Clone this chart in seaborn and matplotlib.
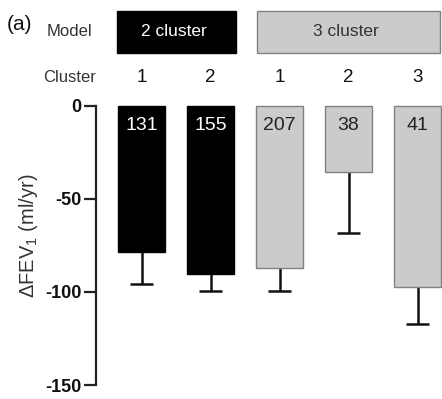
import numpy as np
import pandas as pd
import matplotlib
matplotlib.use("Agg")
import matplotlib.pyplot as plt
import matplotlib.transforms as mtransforms
from matplotlib.patches import Rectangle
import seaborn as sns

# Decline in FEV1 per cluster, for the 2- and 3-cluster models
models = ["2 cluster", "2 cluster", "3 cluster", "3 cluster", "3 cluster"]
clusters = ["1", "2", "1", "2", "3"]
n_subjects = [131, 155, 207, 38, 41]
mean_decline = [-78.8, -90.5, -86.9, -35.8, -97.3]
sem_decline = [17.1, 8.8, 12.4, 32.8, 20.2]
y_ticks = [0, -50, -100, -150]

sns.set_theme(style="white")
plt.rcParams["font.family"] = ["Liberation Sans", "DejaVu Sans"]
plt.rcParams["mathtext.fontset"] = "custom"
plt.rcParams["mathtext.rm"] = "Liberation Sans"
plt.rcParams["mathtext.it"] = "Liberation Sans:italic"

df = pd.DataFrame({
    "group": [f"{m} / {c}" for m, c in zip(models, clusters)],
    "model": models,
    "mean": mean_decline,
})

W, H = 442, 399
fig = plt.figure(figsize=(W / 100, H / 100), dpi=100)
ax = fig.add_axes([95.7 / W, 1 - 385 / H, (W - 95.7) / W, (385 - 105.7) / H])

palette = {"2 cluster": "#000000", "3 cluster": "#cbcbcb"}
sns.barplot(data=df, x="group", y="mean", hue="model", palette=palette,
            dodge=False, width=0.67, errorbar=None, legend=False, ax=ax)
for patch in ax.patches:
    fc = patch.get_facecolor()
    patch.set_edgecolor("#000000" if fc[0] < 0.5 else "#808080")
    patch.set_linewidth(1.0)
    patch.set_clip_on(False)
    patch.set_zorder(2)

# one-sided (downward) SEM bars
xpos = np.arange(len(mean_decline))
lows = np.array(mean_decline) - np.array(sem_decline)
ax.vlines(xpos, lows, mean_decline, color="#111111", lw=1.8, zorder=1, clip_on=False)
ax.hlines(lows, xpos - 0.165, xpos + 0.165, color="#111111", lw=1.8, zorder=1, clip_on=False)

for i, (n, m) in enumerate(zip(n_subjects, models)):
    ax.text(i, -10.4, str(n), ha="center", va="center", fontsize=14, zorder=3,
            color="white" if m == "2 cluster" else "#222222")

ax.set_xlim(-0.664, 4.355)
ax.set_ylim(-150, 0)
ax.set_xticks([])
ax.set_xlabel("")
ax.set_yticks(y_ticks, labels=[str(t) for t in y_ticks])
for lbl in ax.get_yticklabels():
    lbl.set_fontweight("bold")
ax.tick_params(axis="y", left=True, length=8.5, width=1.6, pad=1.5,
               labelsize=13, color="#222222", labelcolor="#111111")
for side in ["top", "right", "bottom"]:
    ax.spines[side].set_visible(False)
ax.spines["left"].set_linewidth(1.6)
ax.spines["left"].set_color("#222222")

ax.set_ylabel("ΔFEV$_{\\rm 1}$ (ml/yr)", fontsize=14.5, color="#333333", va="center")
ax.yaxis.set_label_coords(-0.195, 0.535)

# header: model boxes and cluster numbers
trans = mtransforms.blended_transform_factory(ax.transData, fig.transFigure)
y0, y1 = 1 - 53 / H, 1 - 11 / H
ax.add_patch(Rectangle((-0.355, y0), 1.725, y1 - y0, transform=trans,
                       facecolor="#000000", edgecolor="#000000", lw=1, clip_on=False))
ax.add_patch(Rectangle((1.674, y0), 2.65, y1 - y0, transform=trans,
                       facecolor="#cbcbcb", edgecolor="#808080", lw=1, clip_on=False))
ax.text(0.47, (y0 + y1) / 2, "2 cluster", transform=trans, ha="center", va="center",
        color="white", fontsize=12.5)
ax.text(2.96, (y0 + y1) / 2, "3 cluster", transform=trans, ha="center", va="center",
        color="#333333", fontsize=12.5)
for i, c in enumerate(clusters):
    ax.text(i, 1 - 77 / H, c, transform=trans, ha="center", va="center",
            fontsize=13.5, color="#111111")

fig.text(69 / W, 1 - 32 / H, "Model", ha="center", va="center", fontsize=12,
         color="#333333")
fig.text(70 / W, 1 - 77 / H, "Cluster", ha="center", va="center", fontsize=12,
         color="#333333")
fig.text(20 / W, 1 - 25 / H, "(a)", ha="center", va="center", fontsize=15,
         color="#111111")

fig.savefig("out.png", dpi=100)
